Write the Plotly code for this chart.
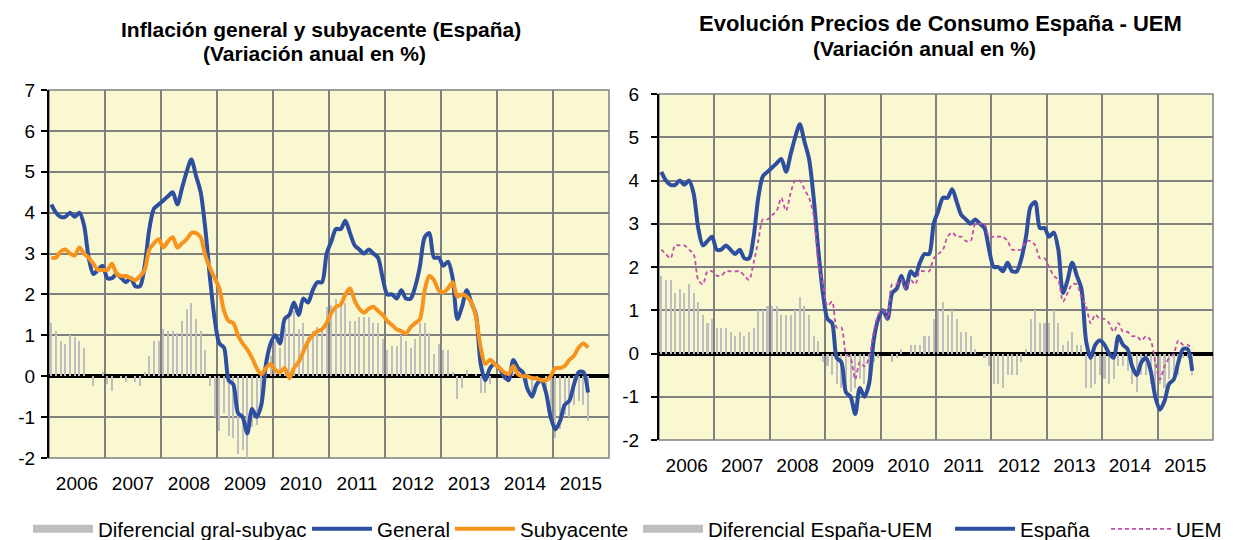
import plotly.graph_objects as go

# The page body has an 8px margin: the figure is drawn 8px right/down from the
# window corner, so the figure is sized to fit the 1234x540 window exactly.
OFF = 8
W, H = 1234 - OFF, 540 - OFF
FONT = "Liberation Sans, Arial, sans-serif"

years = ["2006", "2007", "2008", "2009", "2010", "2011", "2012", "2013", "2014", "2015"]
left_ticks = [-2, -1, 0, 1, 2, 3, 4, 5, 6, 7]
left_ticktext = ["-2", "-1", "0", "1", "2", "3", "4", "5", "6", "7"]
right_ticks = [-2, -1, 0, 1, 2, 3, 4, 5, 6]
right_ticktext = ["-2", "-1", "0", "1", "2", "3", "4", "5", "6"]

# Spain headline CPI, annual % (Jan 2006 - Aug 2015)
general = [
    4.2, 4.0, 3.9, 3.9, 4.0, 3.9, 4.0, 3.7, 2.9, 2.5, 2.6, 2.7,
    2.4, 2.4, 2.5, 2.4, 2.3, 2.4, 2.2, 2.2, 2.7, 3.6, 4.1, 4.2,
    4.3, 4.4, 4.5, 4.2, 4.6, 5.0, 5.3, 4.9, 4.5, 3.6, 2.4, 1.4,
    0.8, 0.7, -0.1, -0.2, -0.9, -1.0, -1.4, -0.8, -1.0, -0.7, 0.3, 0.8,
    1.0, 0.8, 1.4, 1.5, 1.8, 1.5, 1.9, 1.8, 2.1, 2.3, 2.3, 3.0,
    3.3, 3.6, 3.6, 3.8, 3.5, 3.2, 3.1, 3.0, 3.1, 3.0, 2.9, 2.4,
    2.0, 2.0, 1.9, 2.1, 1.9, 1.9, 2.2, 2.7, 3.4, 3.5, 2.9, 2.9,
    2.7, 2.8, 2.4, 1.4, 1.7, 2.1, 1.8, 1.5, 0.3, -0.1, 0.2, 0.3,
    0.2, 0.0, -0.1, 0.4, 0.2, 0.1, -0.3, -0.5, -0.2, -0.1, -0.4, -1.0,
    -1.3, -1.1, -0.7, -0.6, -0.2, 0.1, 0.1, -0.4,
]

# Spain core CPI (subyacente)
subyacente = [
    2.9, 2.9, 3.05, 3.1, 3.0, 2.95, 3.15, 3.0, 2.9, 2.75, 2.6, 2.6,
    2.6, 2.75, 2.5, 2.45, 2.45, 2.4, 2.35, 2.45, 2.6, 3.1, 3.25, 3.35,
    3.15, 3.3, 3.4, 3.15, 3.25, 3.35, 3.5, 3.5, 3.4, 2.95, 2.65, 2.4,
    2.15, 1.6, 1.35, 1.3, 1.0, 0.8, 0.65, 0.45, 0.2, 0.05, 0.2, 0.3,
    0.15, 0.1, 0.2, -0.05, 0.2, 0.35, 0.6, 0.85, 1.0, 1.1, 1.15, 1.3,
    1.55, 1.7, 1.75, 2.0, 2.15, 1.85, 1.65, 1.55, 1.65, 1.7, 1.6, 1.5,
    1.35, 1.25, 1.15, 1.1, 1.05, 1.2, 1.3, 1.4, 2.1, 2.45, 2.35, 2.1,
    2.05, 2.15, 2.3, 1.95, 2.0, 1.95, 1.8, 1.45, 0.7, 0.3, 0.4, 0.3,
    0.2, 0.1, 0.05, 0.25, 0.05, 0.0, 0.0, -0.05, -0.05, -0.1, -0.1, 0.0,
    0.2, 0.2, 0.25, 0.4, 0.5, 0.7, 0.8, 0.7,
]

# Differential general - core (bars, left chart)
dif_gral_subyac = [
    1.3, 1.1, 0.85, 0.8, 1.0, 0.95, 0.85, 0.7, 0.0, -0.25, 0.0, 0.1,
    -0.2, -0.35, 0.0, -0.05, -0.15, 0.0, -0.15, -0.25, 0.1, 0.5, 0.85, 0.85,
    1.15, 1.1, 1.1, 1.05, 1.35, 1.65, 1.8, 1.4, 1.1, 0.65, -0.25, -1.0,
    -1.35, -0.9, -1.45, -1.5, -1.9, -1.8, -2.05, -1.25, -1.2, -0.75, 0.1, 0.5,
    0.85, 0.7, 1.2, 1.55, 1.6, 1.15, 1.3, 0.95, 1.1, 1.2, 1.15, 1.7,
    1.75, 1.9, 1.85, 1.8, 1.35, 1.35, 1.45, 1.45, 1.45, 1.3, 1.3, 0.9,
    0.65, 0.75, 0.75, 1.0, 0.85, 0.7, 0.9, 1.3, 1.3, 1.05, 0.55, 0.8,
    0.65, 0.65, 0.1, -0.55, -0.3, 0.15, 0.0, 0.05, -0.4, -0.4, -0.2, 0.0,
    0.0, -0.1, -0.15, 0.15, 0.15, 0.1, -0.3, -0.45, -0.15, 0.0, -0.3, -1.0,
    -1.5, -1.3, -0.95, -1.0, -0.7, -0.6, -0.7, -1.1,
]

# Spain series for the right chart (same as headline)
espana = general

# Euro area (UEM) inflation
uem = [
    2.4, 2.3, 2.2, 2.5, 2.5, 2.5, 2.4, 2.3, 1.7, 1.6, 1.9, 1.9,
    1.8, 1.8, 1.9, 1.9, 1.9, 1.9, 1.8, 1.7, 2.1, 2.6, 3.1, 3.1,
    3.2, 3.3, 3.6, 3.3, 3.7, 4.0, 4.0, 3.8, 3.6, 3.2, 2.1, 1.6,
    1.1, 1.2, 0.6, 0.6, 0.0, -0.1, -0.6, -0.2, -0.3, -0.1, 0.5, 0.9,
    1.0, 0.8, 1.6, 1.6, 1.7, 1.5, 1.7, 1.6, 1.9, 1.9, 1.9, 2.2,
    2.3, 2.4, 2.7, 2.8, 2.7, 2.7, 2.6, 2.6, 3.0, 3.0, 3.0, 2.7,
    2.7, 2.7, 2.7, 2.6, 2.4, 2.4, 2.4, 2.6, 2.6, 2.5, 2.2, 2.2,
    2.0, 1.8, 1.7, 1.2, 1.4, 1.6, 1.6, 1.3, 1.1, 0.7, 0.9, 0.8,
    0.8, 0.7, 0.5, 0.7, 0.5, 0.5, 0.4, 0.4, 0.3, 0.4, 0.3, -0.2,
    -0.6, -0.3, -0.1, 0.0, 0.3, 0.2, 0.2, 0.1,
]

# Differential Spain - UEM (bars, right chart)
dif_espana_uem = [
    1.8, 1.7, 1.7, 1.4, 1.5, 1.4, 1.6, 1.4, 1.2, 0.9, 0.7, 0.8,
    0.6, 0.6, 0.6, 0.5, 0.4, 0.5, 0.4, 0.5, 0.6, 1.0, 1.0, 1.1,
    1.1, 1.1, 0.9, 0.9, 0.9, 1.0, 1.3, 1.1, 0.9, 0.4, 0.3, -0.2,
    -0.3, -0.5, -0.7, -0.8, -0.9, -0.9, -0.8, -0.6, -0.7, -0.6, -0.2, -0.1,
    0.0, 0.0, -0.2, -0.1, 0.1, 0.0, 0.2, 0.2, 0.2, 0.4, 0.4, 0.8,
    1.0, 1.2, 0.9, 1.0, 0.8, 0.5, 0.5, 0.4, 0.1, 0.0, -0.1, -0.3,
    -0.7, -0.7, -0.8, -0.5, -0.5, -0.5, -0.2, 0.1, 0.8, 1.0, 0.7, 0.7,
    0.7, 1.0, 0.7, 0.2, 0.3, 0.5, 0.2, 0.2, -0.8, -0.8, -0.7, -0.5,
    -0.6, -0.7, -0.6, -0.3, -0.3, -0.4, -0.7, -0.9, -0.5, -0.5, -0.7, -0.8,
    -0.7, -0.8, -0.6, -0.6, -0.5, -0.1, -0.1, -0.5,
]

months = list(range(len(general)))

BLUE = "#2E4F9F"
ORANGE = "#F7941E"
GRAY_BAR = "#BFBFBF"
MAGENTA = "#BF4FA8"
GRID = "#808080"
BG = "#FAF8D0"


def px_x(p):  # window pixel -> paper fraction
    return (p - OFF) / W


def px_y(p):
    return 1 - (p - OFF) / H


fig = go.Figure()

# ---- Left chart
fig.add_trace(go.Bar(x=months, y=dif_gral_subyac, name="Diferencial gral-subyac",
                     marker=dict(color=GRAY_BAR, line=dict(width=0)), width=0.45,
                     xaxis="x", yaxis="y", showlegend=False, legendgroup="d1"))
# legend key for the bars (wide flat swatch like the original)
fig.add_trace(go.Scatter(x=[None], y=[None], mode="lines", name="Diferencial gral-subyac",
                         line=dict(color=GRAY_BAR, width=8), xaxis="x", yaxis="y",
                         legend="legend", legendgroup="d1"))
fig.add_trace(go.Scatter(x=months, y=general, mode="lines", name="General",
                         line=dict(color=BLUE, width=4, shape="spline", smoothing=0.8),
                         xaxis="x", yaxis="y", legend="legend2"))
fig.add_trace(go.Scatter(x=months, y=subyacente, mode="lines", name="Subyacente",
                         line=dict(color=ORANGE, width=4, shape="spline", smoothing=0.8),
                         xaxis="x", yaxis="y", legend="legend3"))

# ---- Right chart
fig.add_trace(go.Bar(x=months, y=dif_espana_uem, name="Diferencial España-UEM",
                     marker=dict(color=GRAY_BAR, line=dict(width=0)), width=0.45,
                     xaxis="x2", yaxis="y2", showlegend=False, legendgroup="d2"))
fig.add_trace(go.Scatter(x=[None], y=[None], mode="lines", name="Diferencial España-UEM",
                         line=dict(color=GRAY_BAR, width=8), xaxis="x2", yaxis="y2",
                         legend="legend4", legendgroup="d2"))
fig.add_trace(go.Scatter(x=months, y=espana, mode="lines", name="España",
                         line=dict(color=BLUE, width=4, shape="spline", smoothing=0.8),
                         xaxis="x2", yaxis="y2", legend="legend5"))
fig.add_trace(go.Scatter(x=months, y=uem, mode="lines", name="UEM",
                         line=dict(color=MAGENTA, width=1.8, dash="4px,3px", shape="spline", smoothing=0.8),
                         xaxis="x2", yaxis="y2", legend="legend6"))

tick_font = dict(family=FONT, size=19, color="black")


def xaxis_cfg(x0, x1, anchor):
    return dict(
        domain=[px_x(x0), px_x(x1)], range=[-0.5, 119.5], anchor=anchor,
        tickmode="array", tickvals=[5.5 + 12 * k for k in range(len(years))], ticktext=years,
        showgrid=False, ticks="", zeroline=False, showline=False,
        tickfont=tick_font, ticklabelstandoff=12,
        minor=dict(tickmode="array", tickvals=[-0.5 + 12 * k for k in range(11)],
                   showgrid=True, gridcolor=GRID, gridwidth=1.5, ticks=""),
    )


def yaxis_cfg(y0, y1, vals, texts, anchor, standoff):
    return dict(
        domain=[px_y(y1), px_y(y0)], range=[vals[0], vals[-1]], anchor=anchor,
        tickmode="array", tickvals=vals, ticktext=texts,
        showgrid=True, gridcolor=GRID, gridwidth=1.5,
        zeroline=True, zerolinecolor="black", zerolinewidth=4,
        showline=True, linecolor="black", linewidth=2,
        ticks="outside", ticklen=6, tickwidth=2, tickcolor="black",
        tickfont=tick_font, ticklabelstandoff=standoff,
    )


def legend_cfg(xpx):
    return dict(x=px_x(xpx), xanchor="left", y=px_y(529), yanchor="middle",
                orientation="h", bgcolor="rgba(0,0,0,0)", borderwidth=0,
                font=dict(family=FONT, size=20.5, color="black"), itemwidth=60)


fig.update_layout(
    width=W, height=H, margin=dict(l=0, r=0, t=0, b=0, autoexpand=False),
    paper_bgcolor="white", plot_bgcolor=BG,
    font=dict(family=FONT, color="black"),
    bargap=0, showlegend=True,
    xaxis=xaxis_cfg(49, 609, "y"),
    yaxis=yaxis_cfg(90, 458, left_ticks, left_ticktext, "x", 2),
    xaxis2=xaxis_cfg(659, 1213, "y2"),
    yaxis2=yaxis_cfg(94, 440, right_ticks, right_ticktext, "x2", 8),
    legend=legend_cfg(28),
    legend2=legend_cfg(307),
    legend3=legend_cfg(450),
    legend4=legend_cfg(638),
    legend5=legend_cfg(950),
    legend6=legend_cfg(1106),
)

# plot-area borders
for xr, yr in (("x domain", "y domain"), ("x2 domain", "y2 domain")):
    fig.add_shape(type="rect", xref=xr, yref=yr, x0=0, x1=1, y0=0, y1=1,
                  line=dict(color=GRID, width=1.5), layer="below")

annotations = [
    ("<b>Inflación general y subyacente (España)</b>", 321, 29, 21),
    ("<b>(Variación anual en %)</b>", 314, 54, 21),
    ("<b>Evolución Precios de Consumo España - UEM</b>", 940, 23, 22),
    ("<b>(Variación anual en %)</b>", 924, 49, 21),
]
for txt, xpx, ypx, fs in annotations:
    fig.add_annotation(text=txt, x=px_x(xpx), y=px_y(ypx), xref="paper", yref="paper",
                       xanchor="center", yanchor="middle", showarrow=False,
                       font=dict(family=FONT, size=fs, color="black"))

fig.write_html("out.html")
